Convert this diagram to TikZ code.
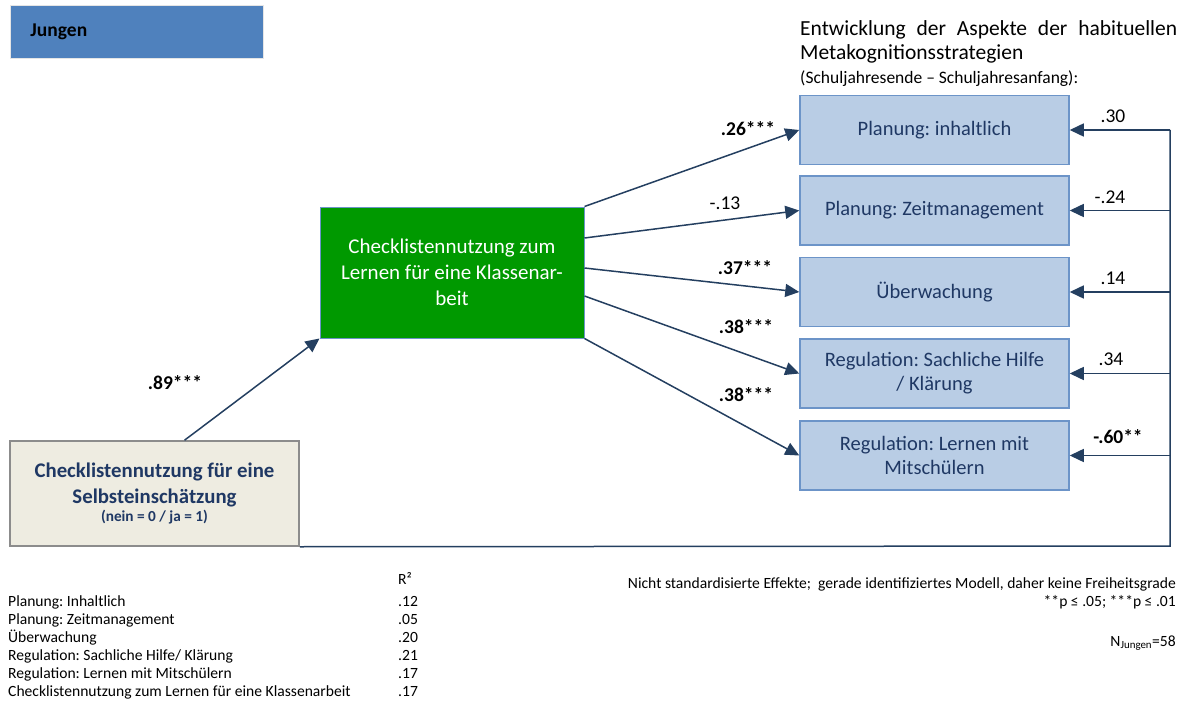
\documentclass[tikz,border=0pt]{standalone}
\usepackage{fontspec}
\setmainfont{Carlito}
\frenchspacing
\usetikzlibrary{arrows.meta}
\definecolor{navy}{HTML}{243F60}
\definecolor{boxblue}{HTML}{B9CDE5}
\definecolor{rimblue}{HTML}{6C94C8}
\definecolor{headblue}{HTML}{4F81BD}
\definecolor{darkgreen}{HTML}{009900}
\definecolor{paper}{HTML}{EEECE1}
\definecolor{txtblue}{HTML}{1F3864}

\begin{document}
\begin{tikzpicture}[x=1pt, y=-1pt, font=\fontsize{20.5}{24}\selectfont,
   outcome/.style={draw=rimblue, line width=1.5pt, fill=boxblue, text=txtblue,
      minimum width=269pt, minimum height=69pt, align=center, inner sep=0pt},
   effect/.style={draw=navy, line width=1.5pt, -{Triangle[length=14pt, width=13pt]}},
   coef/.style={font=\fontsize{19.5}{22}\selectfont, inner sep=0pt},
   small/.style={font=\fontsize{15.6}{18}\selectfont, inner sep=0pt, anchor=base west}]
      \useasboundingbox (0,0) rectangle (1184,706);

      \node[draw=black!10, fill=headblue, line width=1pt, anchor=north west, minimum height=53pt,
         text width=213pt, inner xsep=20pt, align=left, name=jungen] at (10,5)
         {\fontsize{19.5}{22}\selectfont\bfseries Jungen};

      \node[anchor=north west, inner sep=0pt, align=left, font=\fontsize{21.5}{24}\selectfont, name=head] at (800,20)
         {\makebox[377pt][s]{Entwicklung der Aspekte der habituellen}\\
          Metakognitionsstrategien\\
          {\fontsize{17.5}{20}\selectfont (Schuljahresende -- Schuljahresanfang):}};

      \node[outcome, name=p1] at (934.5,130) {Planung: inhaltlich};
      \node[outcome, name=p2] at (934.5,210.5) {Planung: Zeitmanagement};
      \node[outcome, name=p3] at (934.5,292) {Überwachung};
      \node[outcome, name=p4] at (934.5,373.5) {Regulation: Sachliche Hilfe\\/ Klärung};
      \node[outcome, name=p5] at (934.5,455.5) {Regulation: Lernen mit\\Mitschülern};

      \node[draw=rimblue, line width=1pt, fill=darkgreen, text=white, minimum width=264pt, minimum height=131pt,
         align=center, font=\fontsize{21}{26}\selectfont, name=klasse] at (452,272.5)
         {Checklistennutzung zum\\Lernen für eine Klassenar-\\beit};

      \node[draw=black!45, line width=1.5pt, fill=paper, text=txtblue, minimum width=289pt, minimum height=105pt,
         align=center, font=\fontsize{20.8}{26}\selectfont\bfseries, name=selbst] at (154.5,493.5)
         {Checklistennutzung für eine\\Selbsteinschätzung\\[-8pt]{\fontsize{15.3}{17}\selectfont (nein = 0 / ja = 1)}};

      % Pfade
      \draw[effect] ([xshift=30pt]selbst.north) -- (klasse.south west);
      \draw[effect] (klasse.north east) -- (p1.west);
      \draw[effect] ([yshift=34.5pt]klasse.east) -- (p2.west);
      \draw[effect] ([yshift=4.5pt]klasse.east) -- (p3.west);
      \draw[effect] ([yshift=-23.5pt]klasse.east) -- (p4.west);
      \draw[effect] (klasse.south east) -- (p5.west);

      \coordinate (fb0) at (1170,546);
      \coordinate (fbtop) at (1170,130);
      \draw[draw=navy, line width=1.5pt] (selbst.south east) -- (fb0) -- (fbtop);
      \draw[effect] (fbtop) -- (p1.east);
      \draw[effect] (fb0 |- p2.east) -- (p2.east);
      \draw[effect] (fb0 |- p3.east) -- (p3.east);
      \draw[effect] (fb0 |- p4.east) -- (p4.east);
      \draw[effect] (fb0 |- p5.east) -- (p5.east);

      \node[coef, name=c0] at (175,383) {\bfseries .89***};
      \node[coef, name=c1] at (748,129) {\bfseries .26***};
      \node[coef, name=c2] at (725,203) {-.13};
      \node[coef, name=c3] at (745,268) {\bfseries .37***};
      \node[coef, name=c4] at (746,327) {\bfseries .38***};
      \node[coef, name=c5] at (746,395) {\bfseries .38***};
      \node[coef, name=s1] at (1113,116) {.30};
      \node[coef, name=s2] at (1110,197) {-.24};
      \node[coef, name=s3] at (1113,278) {.14};
      \node[coef, name=s4] at (1111,359) {.34};
      \node[coef, name=s5] at (1118,437) {\bfseries -.60**};

      % R^2
      \node[small, name=rhead] at (398,584) {R²};
      \foreach \lab/\val [count=\i] in {Planung: Inhaltlich/.12, Planung: Zeitmanagement/.05,
            Überwachung/.20, {Regulation: Sachliche Hilfe/ Klärung}/.21,
            Regulation: Lernen mit Mitschülern/.17, Checklistennutzung zum Lernen für eine Klassenarbeit/.17}
         {
         \node[small, name=rl\i] at (8,588+18*\i) {\lab};
         \node[small, name=rv\i] at (398,588+18*\i) {\val};
         }

      \node[small, anchor=base east, name=note1] at (1176,588)
         {Nicht standardisierte Effekte;\ \ gerade identifiziertes Modell, daher keine Freiheitsgrade};
      \node[small, anchor=base east, name=note2] at (1176,606) {**p ≤ .05; ***p ≤ .01};
      \node[small, anchor=base east, name=note3] at (1176,646) {N\textsubscript{Jungen}=58};
   \end{tikzpicture}
\end{document}
